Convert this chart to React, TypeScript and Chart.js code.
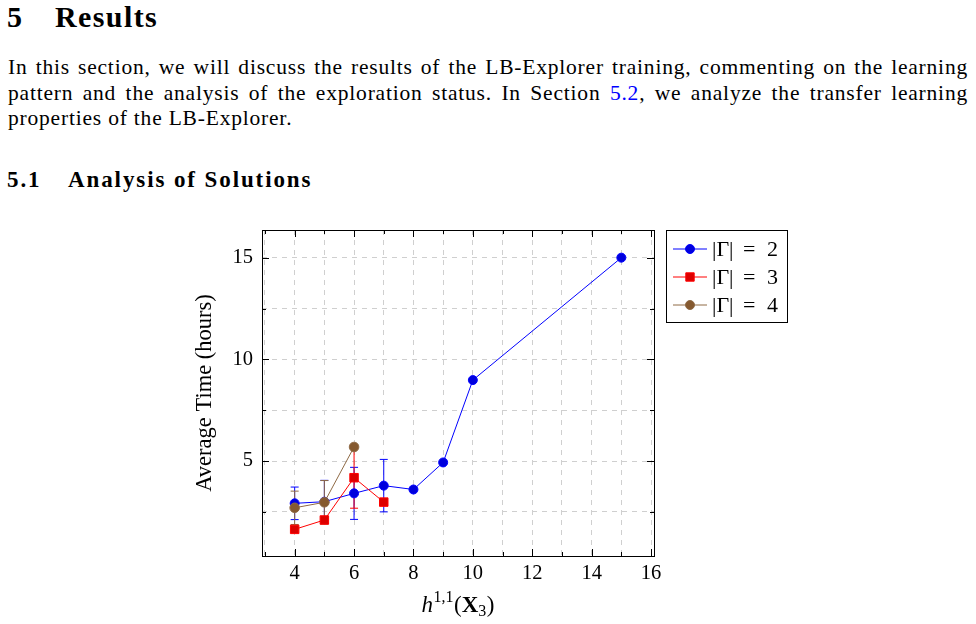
import React, { useEffect, useRef } from "react";
import { Chart, registerables } from "chart.js";

Chart.register(...registerables);

// h^{1,1}(X_3) values and average training times per |Γ|
const gamma2H = [4, 5, 6, 7, 8, 9, 10, 15];
const gamma2Times = [2.92, 3.0, 3.41, 3.79, 3.6, 4.93, 8.98, 15.0];
const gamma2Errors = [0.8, 1.05, 1.28, 1.29, null, null, null, null];

const gamma3H = [4, 5, 6, 7];
const gamma3Times = [1.64, 2.1, 4.18, 2.98];
const gamma3Errors = [null, null, 1.5, null];

const gamma4H = [4, 5, 6];
const gamma4Times = [2.7, 2.97, 5.69];
const gamma4Errors = [0.82, 1.07, null];

const seriesNames = ["2", "3", "4"];

const xTickValues = [3, 4, 5, 6, 7, 8, 9, 10, 11, 12, 13, 14, 15, 16];
const xLabelledTicks = [4, 6, 8, 10, 12, 14, 16];
const yTickValues = [2.5, 5, 7.5, 10, 12.5, 15];
const yLabelledTicks = [5, 10, 15];

const X_MIN = 2.9;
const X_MAX = 16.1;
const Y_MIN = 0.33;
const Y_MAX = 16.36;

const SERIF = '"Liberation Serif", "Times New Roman", serif';

const BLUE = "#0000ff";
const BLUE_MARK = "#0000dd";
const RED = "#ff0000";
const RED_MARK = "#dd0000";
const BROWN = "#8f6a45";
const BROWN_MARK = "#85592f";
const GRID = "#cfcfcf";

const errorSets = [gamma2Errors, gamma3Errors, gamma4Errors];

const errorBarPlugin = {
  id: "errorBars",
  beforeDatasetsDraw(chart: any) {
    const ctx = chart.ctx;
    const ys = chart.scales.y;
    errorSets.forEach((errs, di) => {
      const meta = chart.getDatasetMeta(di);
      const ds = chart.data.datasets[di];
      ctx.save();
      ctx.strokeStyle = ds.borderColor;
      ctx.lineWidth = 1;
      meta.data.forEach((pt: any, i: number) => {
        const e = errs[i];
        if (e == null) return;
        const v = ds.data[i].y;
        const x = pt.x;
        const yTop = ys.getPixelForValue(v + e);
        const yBot = ys.getPixelForValue(v - e);
        ctx.beginPath();
        ctx.moveTo(x, yTop);
        ctx.lineTo(x, yBot);
        ctx.moveTo(x - 4, yTop);
        ctx.lineTo(x + 4, yTop);
        ctx.moveTo(x - 4, yBot);
        ctx.lineTo(x + 4, yBot);
        ctx.stroke();
      });
      ctx.restore();
    });
  },
};

const framePlugin = {
  id: "frame",
  afterDatasetsDraw(chart: any) {
    const { ctx, chartArea } = chart;
    const { left, right, top, bottom } = chartArea;
    const xs = chart.scales.x;
    const ys = chart.scales.y;
    ctx.save();
    ctx.strokeStyle = "#000";
    ctx.lineWidth = 1;
    ctx.beginPath();
    xTickValues.forEach((v) => {
      const px = Math.round(xs.getPixelForValue(v)) + 0.5;
      const len = xLabelledTicks.includes(v) ? 7 : 4;
      ctx.moveTo(px, bottom);
      ctx.lineTo(px, bottom - len);
      ctx.moveTo(px, top);
      ctx.lineTo(px, top + len);
    });
    yTickValues.forEach((v) => {
      const py = Math.round(ys.getPixelForValue(v)) + 0.5;
      const len = yLabelledTicks.includes(v) ? 7 : 4;
      ctx.moveTo(left, py);
      ctx.lineTo(left + len, py);
      ctx.moveTo(right, py);
      ctx.lineTo(right - len, py);
    });
    ctx.stroke();
    ctx.strokeRect(Math.round(left) + 0.5, Math.round(top) + 0.5, Math.round(right - left), Math.round(bottom - top));
    ctx.restore();
  },
};

const xTitlePlugin = {
  id: "xTitle",
  afterDraw(chart: any) {
    const { ctx, chartArea } = chart;
    const cx = (chartArea.left + chartArea.right) / 2;
    const base = chartArea.bottom + 56;
    const parts = [
      { t: "h", f: `italic 23px ${SERIF}`, dy: 0, gap: 0.5 },
      { t: "1,1", f: `16px ${SERIF}`, dy: -10, gap: 0.5 },
      { t: "(", f: `23px ${SERIF}`, dy: 0, gap: 0 },
      { t: "X", f: `bold 23px ${SERIF}`, dy: 0, gap: 0 },
      { t: "3", f: `16px ${SERIF}`, dy: 4, gap: 0.5 },
      { t: ")", f: `23px ${SERIF}`, dy: 0, gap: 0 },
    ];
    ctx.save();
    ctx.fillStyle = "#000";
    ctx.textBaseline = "alphabetic";
    let total = 0;
    const widths = parts.map((p) => {
      ctx.font = p.f;
      const w = ctx.measureText(p.t).width + p.gap;
      total += w;
      return w;
    });
    let x = cx - total / 2;
    parts.forEach((p, i) => {
      ctx.font = p.f;
      ctx.fillText(p.t, x, base + p.dy);
      x += widths[i];
    });
    ctx.restore();
  },
};

const legendPlugin = {
  id: "boxLegend",
  afterDraw(chart: any) {
    const { ctx, chartArea } = chart;
    const bx = chartArea.right + 12;
    const by = chartArea.top;
    const bw = 121;
    const bh = 92;
    ctx.save();
    ctx.fillStyle = "#fff";
    ctx.fillRect(bx, by, bw, bh);
    ctx.strokeStyle = "#000";
    ctx.lineWidth = 1;
    ctx.strokeRect(Math.round(bx) + 0.5, Math.round(by) + 0.5, bw, bh);
    chart.data.datasets.forEach((ds: any, i: number) => {
      const rowY = by + 19 + i * 28;
      const lx0 = bx + 7;
      const lx1 = bx + 41;
      const mx = bx + 24;
      ctx.strokeStyle = ds.borderColor;
      ctx.lineWidth = 1;
      ctx.beginPath();
      ctx.moveTo(lx0, rowY);
      ctx.lineTo(lx1, rowY);
      ctx.stroke();
      ctx.fillStyle = ds.pointBackgroundColor;
      ctx.beginPath();
      if (ds.pointStyle === "rect") {
        ctx.rect(mx - 4.2, rowY - 4.2, 8.4, 8.4);
      } else {
        ctx.arc(mx, rowY, 4.5, 0, Math.PI * 2);
      }
      ctx.fill();
      ctx.stroke();
      ctx.fillStyle = "#000";
      ctx.textBaseline = "alphabetic";
      ctx.font = `22px ${SERIF}`;
      const tx = bx + 46;
      ctx.fillText("|Γ|", tx, rowY + 7);
      ctx.fillText("=", tx + 31, rowY + 7);
      ctx.fillText(seriesNames[i], tx + 55, rowY + 7);
    });
    ctx.restore();
  },
};

function TimeChart() {
  const ref = useRef<HTMLCanvasElement | null>(null);
  useEffect(() => {
    if (!ref.current) return;
    const makePoints = (xs: number[], ys: number[]) => xs.map((x, i) => ({ x, y: ys[i] }));
    const chart = new Chart(ref.current, {
      type: "line",
      data: {
        datasets: [
          {
            label: "|Γ| = 2",
            data: makePoints(gamma2H, gamma2Times),
            borderColor: BLUE,
            backgroundColor: BLUE_MARK,
            pointBackgroundColor: BLUE_MARK,
            pointBorderColor: BLUE,
            pointStyle: "circle",
            pointRadius: 4.5,
            pointBorderWidth: 1,
            borderWidth: 1,
            tension: 0,
            order: 3,
          },
          {
            label: "|Γ| = 3",
            data: makePoints(gamma3H, gamma3Times),
            borderColor: RED,
            backgroundColor: RED_MARK,
            pointBackgroundColor: RED_MARK,
            pointBorderColor: RED,
            pointStyle: "rect",
            pointRadius: 6,
            pointBorderWidth: 1,
            borderWidth: 1,
            tension: 0,
            order: 2,
          },
          {
            label: "|Γ| = 4",
            data: makePoints(gamma4H, gamma4Times),
            borderColor: BROWN,
            backgroundColor: BROWN_MARK,
            pointBackgroundColor: BROWN_MARK,
            pointBorderColor: BROWN,
            pointStyle: "circle",
            pointRadius: 4.8,
            pointBorderWidth: 1,
            borderWidth: 1,
            tension: 0,
            order: 1,
          },
        ],
      } as any,
      options: {
        responsive: false,
        animation: false,
        devicePixelRatio: 1,
        layout: { padding: { top: 10, right: 146, left: 0, bottom: 0 } },
        plugins: { legend: { display: false }, tooltip: { enabled: false } },
        scales: {
          x: {
            type: "linear",
            min: X_MIN,
            max: X_MAX,
            afterBuildTicks: (s: any) => {
              s.ticks = xTickValues.map((value) => ({ value }));
            },
            afterFit: (s: any) => {
              s.height = 68;
              s.paddingLeft = 0;
              s.paddingRight = 0;
            },
            ticks: {
              callback: (v: any) => (xLabelledTicks.includes(Number(v)) ? String(v) : ""),
              font: { family: SERIF, size: 20.5 },
              color: "#000",
              padding: 5,
              maxRotation: 0,
              autoSkip: false,
            },
            grid: { color: GRID, lineWidth: 1, drawTicks: false },
            border: { display: false, dash: [5, 5] },
          },
          y: {
            type: "linear",
            min: Y_MIN,
            max: Y_MAX,
            afterBuildTicks: (s: any) => {
              s.ticks = yTickValues.map((value) => ({ value }));
            },
            afterFit: (s: any) => {
              s.width = 72;
              s.paddingTop = 0;
              s.paddingBottom = 0;
            },
            ticks: {
              callback: (v: any) => (yLabelledTicks.includes(Number(v)) ? String(v) : ""),
              font: { family: SERIF, size: 20.5 },
              color: "#000",
              padding: 9,
              autoSkip: false,
            },
            grid: { color: GRID, lineWidth: 1, drawTicks: false },
            border: { display: false, dash: [5, 5] },
            title: {
              display: true,
              text: "Average Time (hours)",
              font: { family: SERIF, size: 22.5 },
              color: "#000",
              padding: { top: 2, bottom: 0 },
            },
          },
        },
      } as any,
      plugins: [errorBarPlugin, framePlugin, legendPlugin, xTitlePlugin],
    });
    return () => chart.destroy();
  }, []);
  return (
    <canvas
      ref={ref}
      width={610}
      height={404}
      style={{ position: "absolute", left: 190, top: 220, width: 610, height: 404 }}
    />
  );
}

const bodyLine: React.CSSProperties = {
  position: "absolute",
  left: 8,
  width: 960,
  fontSize: 21.5,
  lineHeight: "21.5px",
  letterSpacing: "0.8px",
  textAlign: "justify",
  textAlignLast: "justify",
};

const heading: React.CSSProperties = {
  position: "absolute",
  fontSize: 30,
  lineHeight: "30px",
  fontWeight: "bold",
  letterSpacing: "1.4px",
  top: 1.9,
};

const subheading: React.CSSProperties = {
  position: "absolute",
  fontSize: 23,
  lineHeight: "23px",
  fontWeight: "bold",
  letterSpacing: "1.9px",
  top: 167.7,
};

export default function App() {
  return (
    <div
      style={{
        position: "absolute",
        left: 0,
        top: 0,
        width: 976,
        height: 624,
        overflow: "hidden",
        background: "#fff",
        fontFamily: SERIF,
        color: "#000",
      }}
    >
      <div style={{ ...heading, left: 7 }}>5</div>
      <div style={{ ...heading, left: 55 }}>Results</div>
      <div style={{ ...bodyLine, top: 57 }}>
        In this section, we will discuss the results of the LB-Explorer training, commenting on the learning
      </div>
      <div style={{ ...bodyLine, top: 82.5 }}>
        pattern and the analysis of the exploration status. In Section <span style={{ color: "#0000ff" }}>5.2</span>,
        we analyze the transfer learning
      </div>
      <div style={{ ...bodyLine, top: 108, textAlign: "left", textAlignLast: "left" }}>
        properties of the LB-Explorer.
      </div>
      <div style={{ ...subheading, left: 7 }}>5.1</div>
      <div style={{ ...subheading, left: 68 }}>Analysis of Solutions</div>
      <TimeChart />
    </div>
  );
}
